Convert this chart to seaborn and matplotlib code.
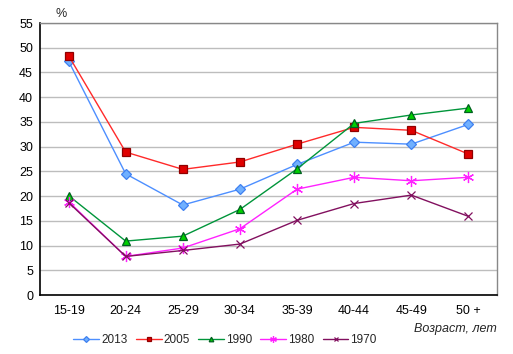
import matplotlib
matplotlib.use("Agg")
import matplotlib.pyplot as plt
import seaborn as sns
import pandas as pd

categories = ["15-19", "20-24", "25-29", "30-34", "35-39", "40-44", "45-49", "50 +"]
s2013 = [47.3, 24.5, 18.2, 21.4, 26.4, 30.9, 30.5, 34.5]
s2005 = [48.4, 28.9, 25.4, 26.9, 30.5, 33.9, 33.3, 28.5]
s1990 = [20.1, 10.9, 11.9, 17.3, 25.5, 34.7, 36.4, 37.8]
s1980 = [18.9, 7.8, 9.5, 13.4, 21.4, 23.8, 23.1, 23.8]
s1970 = [18.7, 7.8, 9.0, 10.3, 15.1, 18.5, 20.2, 15.9]
series_names = ["2013", "2005", "1990", "1980", "1970"]
yticks = list(range(0, 56, 5))

sns.set_theme(style="white")
plt.rcParams["font.family"] = ["Liberation Sans", "DejaVu Sans"]

fig = plt.figure(figsize=(5.13, 3.54), dpi=100)
ax = fig.add_axes([40/513, 59/354, 457/513, 272/354])

styles = {
    "2013": dict(color="#4d8fff", marker="D", mfc="#70b0ff", mec="#3f80f0", ms=5),
    "2005": dict(color="#ff2a2a", marker="s", mfc="#e00000", mec="#900000", ms=5.5),
    "1990": dict(color="#00953a", marker="^", mfc="#00d000", mec="#006020", ms=5.5),
    "1980": dict(color="#ff22ff", marker=(6, 2, 0), mfc="#ff22ff", mec="#ff22ff", ms=8),
    "1970": dict(color="#82105f", marker="x", mfc="#82105f", mec="#82105f", ms=6),
}
data = {"2013": s2013, "2005": s2005, "1990": s1990, "1980": s1980, "1970": s1970}

for name in series_names:
    st = styles[name]
    df = pd.DataFrame({"x": categories, "y": data[name]})
    sns.lineplot(data=df, x="x", y="y", ax=ax, sort=False, color=st["color"],
                 marker=st["marker"], markerfacecolor=st["mfc"], markeredgecolor=st["mec"],
                 markersize=st["ms"], markeredgewidth=0.9, linewidth=1.0, label=name)

ax.set_xlim(-0.5, len(categories) - 0.5)
ax.set_ylim(0, 55)
ax.set_yticks(yticks)
ax.set_yticklabels([str(v) for v in yticks])
ax.yaxis.grid(True, color="#bdbdbd", linewidth=1.0)
ax.xaxis.grid(False)
ax.set_axisbelow(True)
ax.set_xlabel("")
ax.set_ylabel("")
for side in ["top", "right"]:
    ax.spines[side].set_color("#888888")
    ax.spines[side].set_linewidth(1.0)
for side in ["left", "bottom"]:
    ax.spines[side].set_color("black")
    ax.spines[side].set_linewidth(1.2)
ax.tick_params(axis="both", labelsize=9, length=0, colors="black", pad=5)
ax.tick_params(axis="x", pad=7)

fig.text(55/513, 1 - 14/354, "%", fontsize=9, ha="left", va="center")
fig.text(497/513, 1 - 329/354, "Возраст, лет", fontsize=9, style="italic", ha="right", va="center")

leg = ax.legend(loc="center", bbox_to_anchor=(225/513, 1 - 340/354), bbox_transform=fig.transFigure,
                ncol=5, frameon=False, fontsize=8.5, handlelength=2.2, handletextpad=0.15,
                columnspacing=0.7, markerscale=0.6)

fig.savefig("out.png", dpi=100)
